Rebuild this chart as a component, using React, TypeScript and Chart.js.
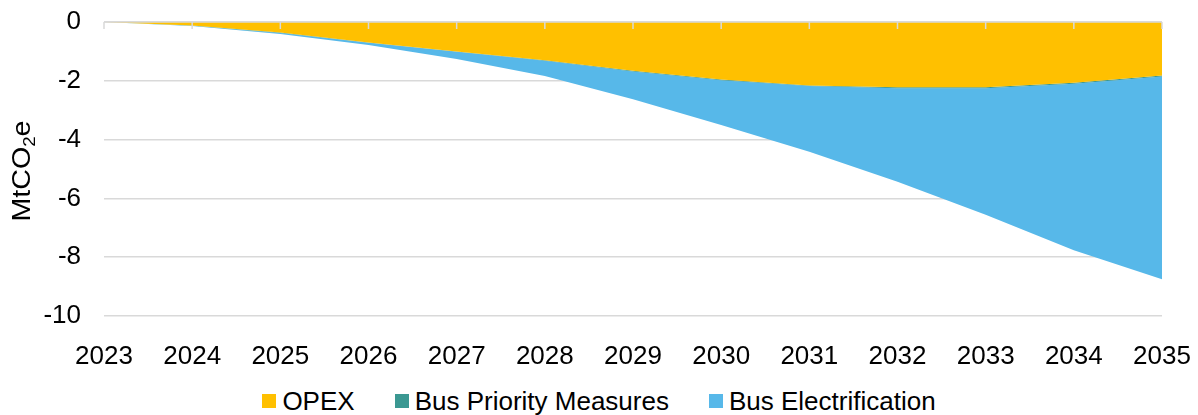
import React, { useEffect, useRef } from "react";
import { Chart, registerables } from "chart.js";

Chart.register(...registerables);

// Annual emission changes (MtCO2e), stacked from the zero line downwards
const years = ["2023", "2024", "2025", "2026", "2027", "2028", "2029", "2030", "2031", "2032", "2033", "2034", "2035"];
const opex = [0, -0.12, -0.36, -0.7, -1.0, -1.3, -1.66, -1.96, -2.16, -2.22, -2.22, -2.07, -1.82];
const busPriority = [0, -0.01, -0.01, -0.01, -0.01, -0.02, -0.02, -0.02, -0.02, -0.03, -0.03, -0.03, -0.03];
const busElectrification = [0, -0.01, -0.04, -0.07, -0.25, -0.52, -0.95, -1.52, -2.23, -3.18, -4.31, -5.66, -6.9];

const seriesNames = ["OPEX", "Bus Priority Measures", "Bus Electrification"];
const seriesColors = ["#FFC000", "#3B9892", "#57B8E9"];

const yMin = -10;
const yMax = 0;
const yStep = 2;

const FONT_FAMILY = "'Liberation Sans', Arial, sans-serif";
const FONT_SIZE = 26;
const GRID_COLOR = "#d9d9d9";

// Horizontal axis line at zero with short inward tick marks, drawn over the areas
const zeroAxisPlugin = {
  id: "zeroAxis",
  afterDatasetsDraw(chart: any) {
    const { ctx, chartArea, scales } = chart;
    const y0 = scales.y.getPixelForValue(0);
    ctx.save();
    ctx.strokeStyle = GRID_COLOR;
    ctx.lineWidth = 1.5;
    ctx.beginPath();
    ctx.moveTo(chartArea.left, y0);
    ctx.lineTo(chartArea.right, y0);
    years.forEach((_, i) => {
      const x = scales.x.getPixelForValue(i);
      ctx.moveTo(x, y0);
      ctx.lineTo(x, y0 + 7);
    });
    ctx.stroke();
    ctx.restore();
  },
};

// Rotated y-axis title with a subscript "2"
const yTitlePlugin = {
  id: "yTitle",
  afterDraw(chart: any) {
    const { ctx, chartArea } = chart;
    const cy = (chartArea.top + chartArea.bottom) / 2 + 2;
    const baseX = 29.5;
    const big = `${FONT_SIZE}px ${FONT_FAMILY}`;
    const small = `${Math.round(FONT_SIZE * 0.66)}px ${FONT_FAMILY}`;
    const parts = [
      { t: "MtCO", f: big, dy: 0 },
      { t: "2", f: small, dy: 5 },
      { t: "e", f: big, dy: 0 },
    ];
    ctx.save();
    ctx.translate(baseX, cy);
    ctx.rotate(-Math.PI / 2);
    ctx.scale(1.1, 1);
    ctx.fillStyle = "#000";
    ctx.textBaseline = "alphabetic";
    ctx.textAlign = "left";
    let total = 0;
    parts.forEach((p) => {
      ctx.font = p.f;
      total += ctx.measureText(p.t).width;
    });
    let x = -total / 2;
    parts.forEach((p) => {
      ctx.font = p.f;
      ctx.fillText(p.t, x, p.dy);
      x += ctx.measureText(p.t).width;
    });
    ctx.restore();
  },
};

export default function App() {
  const canvasRef = useRef<HTMLCanvasElement | null>(null);

  useEffect(() => {
    if (!canvasRef.current) return;
    const font = { family: FONT_FAMILY, size: FONT_SIZE };
    const seriesData = [opex, busPriority, busElectrification];
    const chart = new Chart(canvasRef.current, {
      type: "line",
      data: {
        labels: years,
        datasets: seriesData.map((d, i) => ({
          label: seriesNames[i],
          data: d,
          backgroundColor: seriesColors[i],
          borderColor: "rgba(0,0,0,0)",
          borderWidth: 0,
          fill: i === 0 ? "origin" : "-1",
          pointRadius: 0,
          tension: 0,
        })),
      },
      options: {
        animation: false,
        responsive: false,
        layout: { padding: { top: 22, right: 36, left: 0, bottom: 0 } },
        plugins: {
          legend: { display: false },
          tooltip: { enabled: false },
        },
        scales: {
          x: {
            type: "category",
            offset: false,
            grid: { display: false },
            border: { display: false },
            ticks: { color: "#000", font, padding: 17, maxRotation: 0, autoSkip: false },
            afterFit: (s: any) => {
              s.height = 64;
              s.paddingLeft = 0;
              s.paddingRight = 0;
            },
          },
          y: {
            stacked: true,
            min: yMin,
            max: yMax,
            ticks: { stepSize: yStep, color: "#000", font, padding: 23 },
            grid: { color: GRID_COLOR, lineWidth: 1.5, drawTicks: false },
            border: { display: false },
            afterFit: (s: any) => {
              s.width = 104;
              s.paddingTop = 0;
              s.paddingBottom = 0;
            },
          },
        },
      } as any,
      plugins: [zeroAxisPlugin, yTitlePlugin],
    });
    return () => chart.destroy();
  }, []);

  return (
    <div
      style={{
        position: "fixed",
        left: 0,
        top: 0,
        width: 1198,
        height: 415,
        background: "#fff",
        overflow: "hidden",
      }}
    >
      <canvas ref={canvasRef} width={1198} height={380} style={{ display: "block" }} />
      <div
        style={{
          position: "absolute",
          top: 388,
          left: 0,
          width: 1198,
          display: "flex",
          justifyContent: "center",
          alignItems: "center",
          fontFamily: FONT_FAMILY,
          fontSize: FONT_SIZE,
          lineHeight: `${FONT_SIZE}px`,
          color: "#000",
          whiteSpace: "nowrap",
        }}
      >
        {seriesNames.map((name, i) => (
          <div
            key={name}
            style={{ display: "flex", alignItems: "center", marginRight: i < seriesNames.length - 1 ? 40 : 0 }}
          >
            <span style={{ display: "inline-block", width: 14, height: 14, background: seriesColors[i], marginRight: 6 }} />
            <span>{name}</span>
          </div>
        ))}
      </div>
    </div>
  );
}
